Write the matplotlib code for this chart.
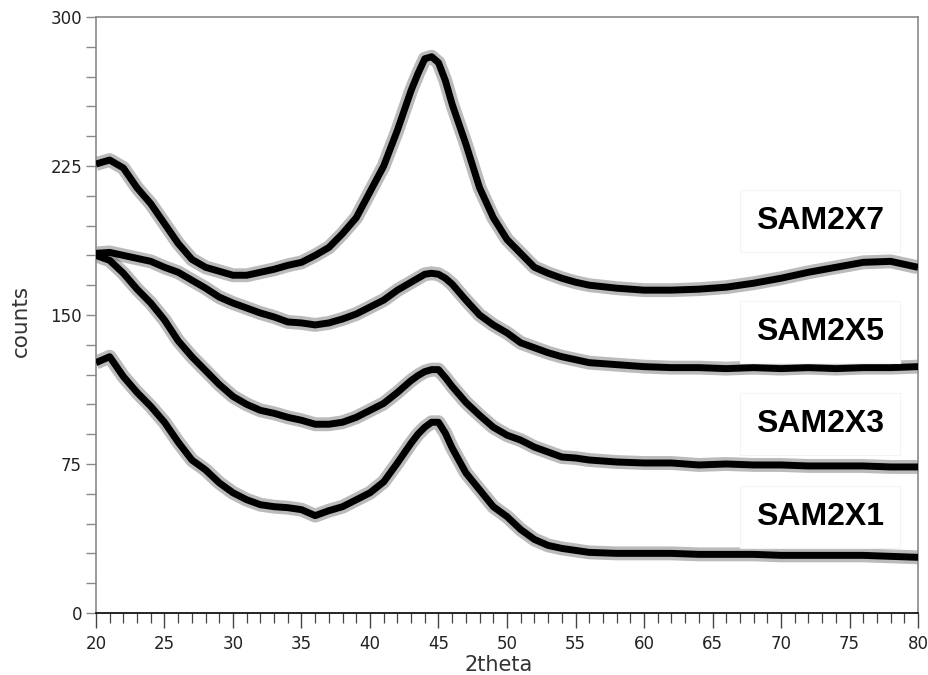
import matplotlib
matplotlib.use("Agg")
import matplotlib.pyplot as plt
from matplotlib.ticker import MultipleLocator

# 2theta sampling grid (degrees)
two_theta = [20, 21, 22, 23, 24, 25, 26, 27, 28, 29, 30, 31, 32, 33, 34, 35,
             36, 37, 38, 39, 40, 41, 42, 43, 43.5, 44, 44.5, 45, 45.5, 46, 47, 48, 49, 50, 51,
             52, 53, 54, 55, 56, 58, 60, 62, 64, 66, 68, 70, 72, 74, 76, 78, 80]

sam2x7 = [226, 228, 224, 214, 206, 196, 186, 178, 174, 172, 170, 170, 171.5, 173, 175, 176.5,
          180, 184, 191, 199, 212, 225, 243, 263, 271.5, 279, 280, 277, 268, 256, 236, 214, 199, 188, 181,
          174, 171, 168.5, 166.5, 165, 163.5, 162.5, 162.5, 163, 164, 166, 168.5, 171.5, 174, 176.5, 177, 174]

sam2x5 = [181, 181.5, 180, 178.5, 177, 174, 171.5, 167.5, 163.5, 159, 156, 153.5, 151, 149, 146.5, 146,
          145, 146, 148, 150.5, 154, 157.5, 162.5, 166.5, 168.5, 170.5, 171, 170.5, 168.5, 165.5, 157.5, 150, 145, 141, 136,
          133.5, 131, 129, 127.5, 126, 125, 124, 123.5, 123.5, 123, 123.5, 123, 123.5, 123, 123.5, 123.5, 124]

sam2x3 = [180, 177.5, 171, 163, 156, 147.5, 137, 129, 122, 115, 109, 105, 102, 100.5, 98.5, 97,
          95, 95, 96, 98.5, 102, 105.5, 111, 117, 119.5, 121.5, 122.5, 122.5, 118.5, 114, 106, 99.5, 93.5, 89.5, 87,
          83.5, 81, 78.5, 78, 77, 76, 75.5, 75.5, 74.5, 75, 74.5, 74.5, 74, 74, 74, 73.5, 73.5]

sam2x1 = [126, 129, 119, 111, 104, 96, 86, 77, 72, 65.5, 60.5, 57, 54.5, 53.5, 53, 52,
          49, 51.5, 53.5, 57, 60.5, 66, 75.5, 85.5, 90, 93.5, 96, 96, 90.5, 83, 70.5, 62, 53.5, 48.5, 42,
          37, 34, 32.5, 31.5, 30.5, 30, 30, 30, 29.5, 29.5, 29.5, 29, 29, 29, 29, 28.5, 28]

series = [sam2x7, sam2x5, sam2x3, sam2x1]
names = ["SAM2X7", "SAM2X5", "SAM2X3", "SAM2X1"]
label_x = 72.85
label_y = [197.5, 141.4, 95.1, 48.1]

fig = plt.figure(figsize=(9.29, 6.75), dpi=100)
ax = fig.add_axes([0.1033, 0.0919, 0.8849, 0.8829])

for ys in series:
    ax.plot(two_theta, ys, color="#555555", lw=10, alpha=0.4,
            solid_joinstyle="round", solid_capstyle="butt", zorder=2)
    ax.plot(two_theta, ys, color="black", lw=5.0,
            solid_joinstyle="round", solid_capstyle="butt", zorder=3)

for name, ly in zip(names, label_y):
    ax.text(label_x, ly, name, family="Liberation Sans", fontweight="bold",
            fontsize=23, ha="center", va="center", color="black", zorder=5,
            bbox=dict(boxstyle="square,pad=0.5", facecolor="white",
                      edgecolor="#f4f4f4", linewidth=0.8))

ax.set_xlim(20, 80)
ax.set_ylim(0, 300)

ax.xaxis.set_major_locator(MultipleLocator(5))
ax.xaxis.set_minor_locator(MultipleLocator(1))
ax.yaxis.set_major_locator(MultipleLocator(75))
ax.yaxis.set_minor_locator(MultipleLocator(15))

gray = "#8a8a8a"
for side in ("left", "top", "right"):
    ax.spines[side].set_color(gray)
    ax.spines[side].set_linewidth(1.2)
ax.spines["bottom"].set_color("black")
ax.spines["bottom"].set_linewidth(1.2)

ax.tick_params(axis="x", which="major", direction="out", length=11, width=1.0,
               color="#444444", labelsize=12, labelcolor="#222222", pad=5)
ax.tick_params(axis="x", which="minor", direction="out", length=7, width=0.9,
               color="#444444")
ax.tick_params(axis="y", which="both", direction="out", length=7, width=1.0,
               color=gray, labelsize=12, labelcolor="#222222", pad=3)

ax.set_xlabel("2theta", fontsize=15, color="#333333", va="center")
ax.set_ylabel("counts", fontsize=15.5, color="#333333", va="center")
ax.xaxis.set_label_coords(0.490, -0.088)
ax.yaxis.set_label_coords(-0.091, 0.490)

fig.savefig("out.png", dpi=100, facecolor="white")
